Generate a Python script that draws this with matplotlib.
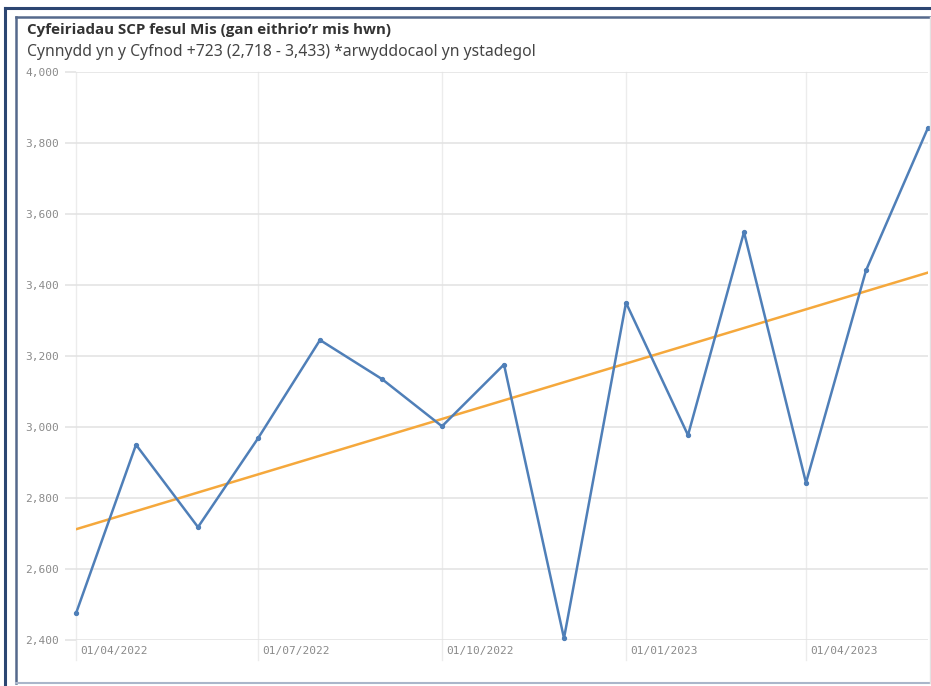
import datetime as dt
import matplotlib
matplotlib.use("Agg")
import matplotlib.pyplot as plt
import matplotlib.transforms as mtransforms
from matplotlib.lines import Line2D

# data (monthly referrals)
months = ["2022-04-01", "2022-05-01", "2022-06-01", "2022-07-01", "2022-08-01",
          "2022-09-01", "2022-10-01", "2022-11-01", "2022-12-01", "2023-01-01",
          "2023-02-01", "2023-03-01", "2023-04-01", "2023-05-01", "2023-06-01"]
referrals = [2475, 2950, 2718, 2968, 3245, 3135, 3002, 3176, 2405, 3350,
             2977, 3549, 2843, 3441, 3843]
trend_start, trend_end = 2712, 3435
tick_dates = ["2022-04-01", "2022-07-01", "2022-10-01", "2023-01-01", "2023-04-01"]
tick_labels = ["01/04/2022", "01/07/2022", "01/10/2022", "01/01/2023", "01/04/2023"]
y_ticks = [2400, 2600, 2800, 3000, 3200, 3400, 3600, 3800, 4000]

title = "Cyfeiriadau SCP fesul Mis (gan eithrio\u2019r mis hwn)"
subtitle = "Cynnydd yn y Cyfnod +723 (2,718 - 3,433) *arwyddocaol yn ystadegol"

W, H = 931, 686
fig = plt.figure(figsize=(W / 100, H / 100), dpi=100)
ax = fig.add_axes([76 / W, 46 / H, (928 - 76) / W, (640 - 72) / H])

x = [dt.datetime.strptime(m, "%Y-%m-%d") for m in months]
ticks_x = [dt.datetime.strptime(t, "%Y-%m-%d") for t in tick_dates]

# vertical gridlines run a bit below the axis
for t in ticks_x:
    ax.axvline(t, ymin=-0.036, ymax=1, color="#ececec", lw=1.0, clip_on=False, zorder=0)
for v in y_ticks:
    ax.axhline(v, color="#e2e2e2", lw=1.1, zorder=0)

ax.plot([x[0], x[-1]], [trend_start, trend_end], color="#f5a83c", lw=1.8, zorder=2)
ax.plot(x, referrals, color="#4f7fb8", lw=1.8, marker="o", ms=2.8, zorder=3,
        clip_on=False)

ax.set_xlim(x[0], x[-1])
ax.set_ylim(2400, 4000)
ax.set_yticks(y_ticks)
ax.set_yticklabels([f"{v:,}" for v in y_ticks])
ax.set_xticks(ticks_x)
ax.set_xticklabels(tick_labels)
ax.tick_params(axis="y", length=8, width=1.1, color="#e2e2e2", pad=4,
               labelsize=8, labelcolor="#8a8a8a")
ax.tick_params(axis="x", length=0, pad=4, labelsize=8, labelcolor="#8a8a8a")
for lab in ax.get_yticklabels() + ax.get_xticklabels():
    lab.set_family("DejaVu Sans Mono")
off = mtransforms.ScaledTranslation(4 / 100, 0, fig.dpi_scale_trans)
for lab in ax.get_xticklabels():
    lab.set_horizontalalignment("left")
    lab.set_transform(lab.get_transform() + off)
for s in ax.spines.values():
    s.set_visible(False)

fig.text(27 / W, 1 - 30 / H, title, fontsize=10.9, fontweight="bold",
         color="#333333", family="Open Sans", va="center")
fig.text(27 / W, 1 - 52 / H, subtitle, fontsize=11.3, color="#454545",
         family="Noto Sans", va="center")

# screenshot frames
def fline(xs, ys, c, lw):
    fig.add_artist(Line2D([v / W for v in xs], [1 - v / H for v in ys],
                          color=c, lw=lw, transform=fig.transFigure))

fline([5, 5], [8, 686], "#2c4672", 2.2)
fline([5, 931], [8, 8], "#2c4672", 2.2)
fline([16, 16], [17, 683], "#55698c", 1.8)
fline([16, 931], [17, 17], "#55698c", 1.8)
fline([16, 931], [683, 683], "#aab6ca", 1.5)
fline([930, 930], [17, 683], "#e2e2e2", 1.0)

fig.savefig("out.png", dpi=100)
